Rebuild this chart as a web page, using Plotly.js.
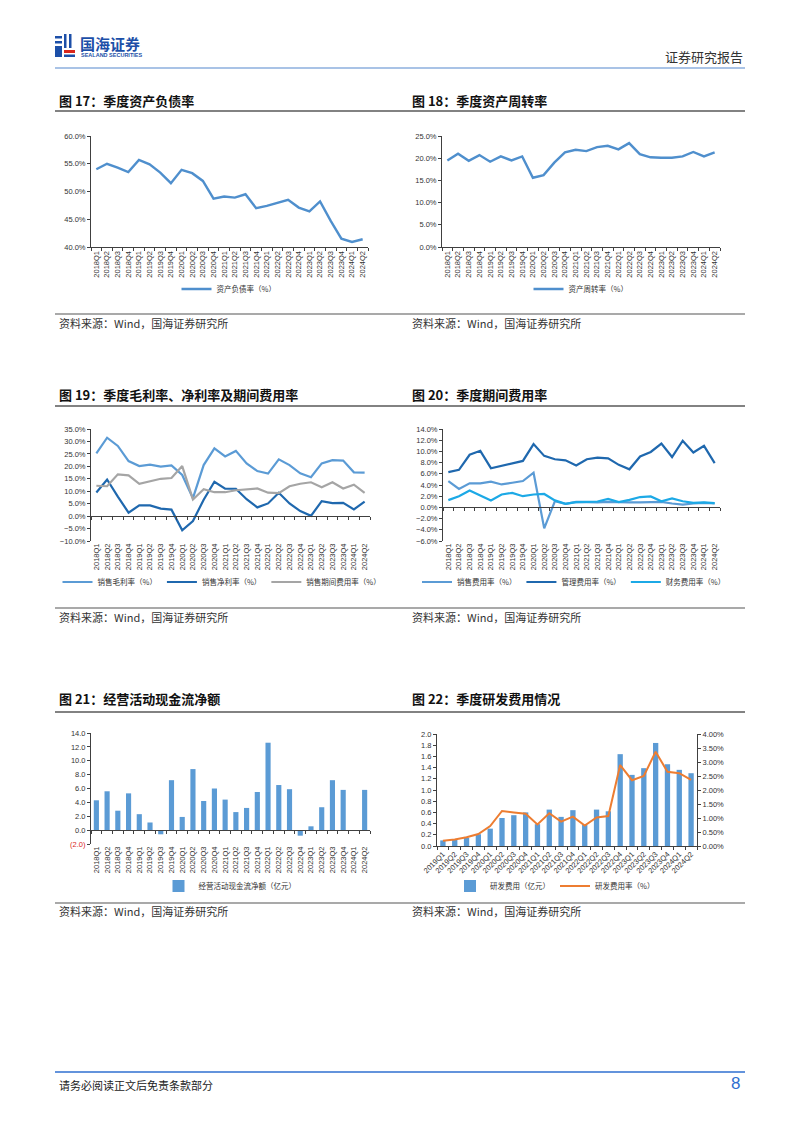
<!DOCTYPE html>
<html>
<head>
<meta charset="utf-8">
<script src="https://cdn.plot.ly/plotly-3.0.1.min.js"></script>
<style>
html,body{margin:0;padding:0;background:#fff;}
#chart{width:802px;height:1133px;}
</style>
</head>
<body>
<div id="chart"></div>
<script>
// ---------- data ----------
const quarters26 = ['2018Q1','2018Q2','2018Q3','2018Q4','2019Q1','2019Q2','2019Q3','2019Q4','2020Q1','2020Q2','2020Q3','2020Q4','2021Q1','2021Q2','2021Q3','2021Q4','2022Q1','2022Q2','2022Q3','2022Q4','2023Q1','2023Q2','2023Q3','2023Q4','2024Q1','2024Q2'];
const quarters22 = ['2019Q1','2019Q2','2019Q3','2019Q4','2020Q1','2020Q2','2020Q3','2020Q4','2021Q1','2021Q2','2021Q3','2021Q4','2022Q1','2022Q2','2022Q3','2022Q4','2023Q1','2023Q2','2023Q3','2023Q4','2024Q1','2024Q2'];

const debtRatio = [54.0,55.0,54.3,53.5,55.7,54.9,53.4,51.5,53.9,53.3,51.9,48.7,49.1,48.9,49.5,47.0,47.4,48.0,48.5,47.1,46.4,48.2,44.7,41.5,40.9,41.4];
const assetTurnover = [19.5,21.0,19.4,20.7,19.2,20.4,19.5,20.4,15.6,16.2,19.0,21.3,21.9,21.6,22.5,22.8,22.0,23.4,20.9,20.2,20.1,20.1,20.4,21.4,20.4,21.3];

const grossMargin = [25.2,31.5,28.2,22.1,20.1,20.7,19.9,20.4,16.5,7.2,20.5,27.2,24.0,26.2,21.2,18.1,17.1,22.8,20.5,17.2,15.6,21.2,22.5,22.3,17.6,17.5];
const netMargin = [9.5,14.7,7.8,1.4,4.3,4.3,3.0,2.6,-5.7,-2.0,6.6,13.8,11.0,11.0,6.8,3.5,5.1,9.4,5.1,2.0,0.1,6.0,5.2,5.3,2.7,5.8];
const periodExpenseRatio = [12.2,12.0,16.8,16.4,13.0,14.1,15.0,15.3,20.1,6.7,10.8,9.6,9.6,10.4,10.8,11.1,9.4,9.2,12.0,13.0,13.6,11.6,13.6,11.1,12.6,9.3];

const salesExpRatio = [4.7,3.3,4.3,4.3,4.6,4.1,4.4,4.7,6.2,-3.75,1.1,0.65,1.0,0.9,0.9,1.0,0.9,0.9,0.9,0.9,1.0,0.7,0.5,0.7,0.8,0.7];
const adminExpRatio = [6.3,6.7,9.4,10.1,7.0,7.4,7.9,8.3,11.3,9.2,8.6,8.4,7.5,8.6,8.9,8.75,7.6,6.8,9.1,9.9,11.4,9.0,11.9,9.8,11.0,7.9];
const finExpRatio = [1.3,2.0,3.0,2.1,1.25,2.3,2.6,2.0,2.3,2.4,1.25,0.65,0.95,1.0,1.05,1.5,0.95,1.35,1.85,1.95,1.1,1.6,1.1,0.8,0.9,0.75];

const operatingCashFlow = [4.3,5.6,2.8,5.3,2.3,1.1,-0.6,7.2,1.9,8.8,4.2,6.0,4.4,2.6,3.2,5.5,12.6,6.5,5.9,-0.8,0.55,3.3,7.2,5.8,null,5.8];
const cashTickVals = [-2,0,2,4,6,8,10,12,14];
const cashTickText = ['<span style="color:#d9261c">(2.0)</span>','0.0','2.0','4.0','6.0','8.0','10.0','12.0','14.0'];

const rdExpense = [0.10,0.12,0.15,0.21,0.31,0.50,0.55,0.60,0.39,0.65,0.52,0.64,0.38,0.65,0.62,1.64,1.27,1.39,1.84,1.46,1.36,1.30];
const rdRatio = [0.19,0.23,0.31,0.43,0.71,1.25,1.20,1.15,0.77,1.17,0.87,1.05,0.73,1.02,1.07,2.89,2.35,2.50,3.37,2.65,2.60,2.36];

// ---------- page geometry helpers ----------
const W = 802, H = 1133;
const X = px => px / W;
const Y = py => 1 - py / H;
const TICKFONT = {family:'Liberation Sans, Arial, Noto Sans CJK SC', size:7.5, color:'#333'};
const CJK = 'Noto Sans CJK SC, Liberation Sans';
const AXC = '#404040';

function yAxis(top, bottom, range, dtick, fmt, suffix, extra){
  return Object.assign({domain:[Y(bottom), Y(top)], range:range, dtick:dtick, tick0:range[0],
    tickformat:fmt, ticksuffix:suffix, showgrid:false, zeroline:false, showline:true,
    linecolor:AXC, linewidth:1, ticks:'outside', ticklen:3, tickcolor:AXC,
    tickfont:TICKFONT, fixedrange:true}, extra||{});
}
function xAxis(left, right, cats, anchor, showline, angle){
  return {domain:[X(left), X(right)], type:'category', categoryarray:cats, categoryorder:'array',
    range:[-0.5, cats.length-0.5], anchor:anchor, showgrid:false, zeroline:false,
    showline:showline, linecolor:AXC, linewidth:1, ticks: showline ? 'outside' : '',
    tickson:'boundaries', ticklen:3, tickcolor:AXC, tickangle:angle, tickfont:TICKFONT, fixedrange:true};
}
function zeroAxis(over, yDom, yRange, n){
  const pos = yDom[0] + (0 - yRange[0]) / (yRange[1]-yRange[0]) * (yDom[1]-yDom[0]);
  return {overlaying:over, anchor:'free', position:pos, range:[-0.5, n-0.5], tick0:-0.5, dtick:1,
    showline:true, linecolor:AXC, linewidth:1, ticks:'outside', ticklen:3, tickcolor:AXC,
    showticklabels:false, showgrid:false, zeroline:false, fixedrange:true};
}
function legendAt(cx, py){
  return {orientation:'h', x:X(cx), xanchor:'center', y:Y(py), yanchor:'middle',
    font:{family:CJK, size:7.5, color:'#333'}, bgcolor:'rgba(0,0,0,0)', itemwidth:30, tracegroupgap:0};
}

// ---------- axes ----------
const R1 = {top:136, bottom:247};
const R2 = {top:429, bottom:541};
const R3 = {top:733, bottom:844};

const y1 = yAxis(R1.top, R1.bottom, [40,60], 5, '.1f', '%', {anchor:'x'});
const y2 = yAxis(R1.top, R1.bottom, [0,25], 5, '.1f', '%', {anchor:'x2'});
const y3 = yAxis(R2.top, R2.bottom, [-10,35], 5, '.1f', '%', {anchor:'x3'});
const y4 = yAxis(R2.top, R2.bottom, [-6,14], 2, '.1f', '%', {anchor:'x4'});
const y5 = yAxis(R3.top, R3.bottom, [-2,14], 2, '.1f', '', {anchor:'x5', tickmode:'array', tickvals:cashTickVals, ticktext:cashTickText});
const y6 = yAxis(734, 846, [0,2], 0.2, '.1f', '', {anchor:'x6'});
const y7 = yAxis(734, 846, [0,4], 0.5, '.2f', '%', {anchor:'x6', overlaying:'y6', side:'right'});

const layout = {
  width:W, height:H, margin:{l:0,r:0,t:0,b:0}, paper_bgcolor:'#fff', plot_bgcolor:'rgba(0,0,0,0)',
  showlegend:true, hovermode:false, barmode:'group',
  xaxis: xAxis(91, 368, quarters26, 'y', true, -90),
  yaxis: y1,
  xaxis2: xAxis(442, 720, quarters26, 'y2', true, -90),
  yaxis2: y2,
  xaxis3: xAxis(91, 370, quarters26, 'y3', false, -90),
  yaxis3: y3,
  xaxis4: xAxis(443, 720, quarters26, 'y4', false, -90),
  yaxis4: y4,
  xaxis5: xAxis(91, 370, quarters26, 'y5', false, -90),
  yaxis5: y5,
  xaxis6: xAxis(437, 697, quarters22, 'y6', true, -45),
  yaxis6: y6,
  yaxis7: y7,
  xaxis7: zeroAxis('x3', y3.domain, y3.range, quarters26.length),
  xaxis8: zeroAxis('x4', y4.domain, y4.range, quarters26.length),
  xaxis9: zeroAxis('x5', y5.domain, y5.range, quarters26.length),
  legend: legendAt(229, 289),
  legend2: legendAt(581, 289),
  legend3: legendAt(222, 582),
  legend4: legendAt(574, 582),
  legend5: legendAt(230, 886),
  legend6: legendAt(555, 886),
  shapes: [], annotations: []
};
layout.xaxis7.domain = layout.xaxis3.domain;
layout.xaxis8.domain = layout.xaxis4.domain;
layout.xaxis9.domain = layout.xaxis5.domain;

// ---------- traces ----------
const C_BLUE = '#4F8FCD', C_LBLUE = '#5B9BD5', C_DBLUE = '#1F68AE', C_GRAY = '#A5A5A5', C_CYAN = '#1CA9E6', C_ORANGE = '#ED7D31';
function line(x, y, name, color, xa, ya, leg, w){
  return {type:'scatter', mode:'lines', x:x, y:y, name:name, xaxis:xa, yaxis:ya, legend:leg,
    line:{color:color, width:w||2.2}, hoverinfo:'skip', cliponaxis:false};
}
const traces = [
  line(quarters26, debtRatio, '资产负债率（%）', C_BLUE, 'x', 'y', 'legend', 2.4),
  line(quarters26, assetTurnover, '资产周转率（%）', C_BLUE, 'x2', 'y2', 'legend2', 2.4),
  line(quarters26, grossMargin, '销售毛利率（%）', C_LBLUE, 'x3', 'y3', 'legend3'),
  line(quarters26, netMargin, '销售净利率（%）', C_DBLUE, 'x3', 'y3', 'legend3'),
  line(quarters26, periodExpenseRatio, '销售期间费用率（%）', C_GRAY, 'x3', 'y3', 'legend3'),
  line(quarters26, salesExpRatio, '销售费用率（%）', C_LBLUE, 'x4', 'y4', 'legend4'),
  line(quarters26, adminExpRatio, '管理费用率（%）', C_DBLUE, 'x4', 'y4', 'legend4'),
  line(quarters26, finExpRatio, '财务费用率（%）', C_CYAN, 'x4', 'y4', 'legend4'),
  {type:'bar', x:quarters26, y:operatingCashFlow, name:'经营活动现金流净额（亿元）', xaxis:'x5', yaxis:'y5', legend:'legend5',
    marker:{color:C_LBLUE}, width:0.48, hoverinfo:'skip'},
  {type:'bar', x:quarters22, y:rdExpense, name:'研发费用（亿元）', xaxis:'x6', yaxis:'y6', legend:'legend6',
    marker:{color:C_LBLUE}, width:0.45, hoverinfo:'skip'},
  line(quarters22, rdRatio, '研发费用率（%）', C_ORANGE, 'x6', 'y7', 'legend6', 2),
  // carriers for the zero-line axes
  {type:'scatter', mode:'lines', x:[0], y:[null], xaxis:'x7', yaxis:'y3', showlegend:false, hoverinfo:'skip'},
  {type:'scatter', mode:'lines', x:[0], y:[null], xaxis:'x8', yaxis:'y4', showlegend:false, hoverinfo:'skip'},
  {type:'scatter', mode:'lines', x:[0], y:[null], xaxis:'x9', yaxis:'y5', showlegend:false, hoverinfo:'skip'}
];

// ---------- page furniture ----------
function hline(x0, x1, py, color, w){
  layout.shapes.push({type:'line', xref:'paper', yref:'paper', x0:X(x0), x1:X(x1), y0:Y(py), y1:Y(py),
    line:{color:color, width:w}});
}
function rect(x0, y0, x1, y1, color){
  layout.shapes.push({type:'rect', xref:'paper', yref:'paper', x0:X(x0), x1:X(x1), y0:Y(y1), y1:Y(y0),
    fillcolor:color, line:{width:0}});
}
function text(str, px, py, size, color, anchor, bold, family){
  layout.annotations.push({xref:'paper', yref:'paper', x:X(px), y:Y(py), xanchor:anchor||'left', yanchor:'middle',
    text: bold ? '<b>'+str+'</b>' : str, showarrow:false,
    font:{family:family||CJK, size:size, color:color}});
}

// header
hline(55, 745, 68, '#A9C3E6', 2);
text('证券研究报告', 745, 57, 13, '#333', 'right');
// logo icon
rect(55, 36, 62, 38.5, '#1C4FA8');
rect(55, 41, 62, 43.5, '#1C4FA8');
rect(64, 34, 66.5, 48, '#1C4FA8');
rect(69, 34, 71.5, 48, '#1C4FA8');
rect(55, 46, 62, 57, '#1C4FA8');
rect(64, 50, 75, 53, '#D9261C');
rect(64, 54.5, 75, 57, '#1C4FA8');
text('国海证券', 78, 44, 15, '#1C4FA8', 'left', true);
text('SEALAND SECURITIES', 79, 55, 5.5, '#1C4FA8', 'left', true, 'Liberation Sans');

// titles & separators
const rows = [
  {title:100, uline:111, bline:314, src:323},
  {title:394, uline:406, bline:608, src:617},
  {title:698, uline:712, bline:903, src:911}
];
const titles = [['图 17：季度资产负债率','图 18：季度资产周转率'],
                ['图 19：季度毛利率、净利率及期间费用率','图 20：季度期间费用率'],
                ['图 21：经营活动现金流净额','图 22：季度研发费用情况']];
rows.forEach((r, i) => {
  hline(55, 745, r.uline, '#595959', 1.6);
  hline(55, 745, r.bline, '#8C8C8C', 1.6);
  text(titles[i][0], 57, r.title, 13, '#111', 'left', true);
  text(titles[i][1], 410, r.title, 13, '#111', 'left', true);
  text('资料来源：Wind，国海证券研究所', 57, r.src, 11, '#333', 'left');
  text('资料来源：Wind，国海证券研究所', 410, r.src, 11, '#333', 'left');
});

// footer
hline(55, 745, 1072, '#2F6FD0', 1.5);
text('请务必阅读正文后免责条款部分', 57, 1085, 11, '#222', 'left');
text('8', 742, 1083, 17, '#2F6FD0', 'right', false, 'Liberation Sans');

Plotly.newPlot('chart', traces, layout, {staticPlot:true, displayModeBar:false});
</script>
</body>
</html>
